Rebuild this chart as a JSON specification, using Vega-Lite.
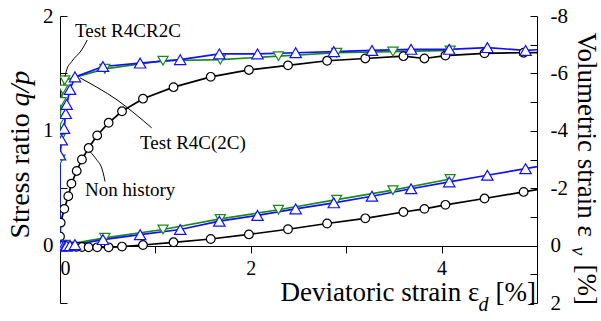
{
  "$schema": "https://vega.github.io/schema/vega-lite/v6.json",
  "width": 477,
  "height": 287,
  "autosize": {"type": "none"},
  "padding": {"left": 60, "top": 16, "right": 64, "bottom": 18},
  "background": "white",
  "config": {
    "font": "Liberation Serif",
    "view": {"stroke": null},
    "axis": {"grid": false, "domainColor": "black", "tickColor": "black", "labelColor": "black", "titleColor": "black", "labelFont": "Liberation Serif", "titleFont": "Liberation Serif", "titleFontWeight": "normal", "labelFontSize": 21, "titleFontSize": 27, "domainWidth": 1, "tickWidth": 1}
  },
  "datasets": {
    "curves": [
      {"series": "Non history", "ed": 0, "qp": 0, "ev": 0},
      {"series": "Non history", "ed": 0.0, "qp": 0.08, "ev": 0.0},
      {"series": "Non history", "ed": 0.007, "qp": 0.2, "ev": 0.0},
      {"series": "Non history", "ed": 0.045, "qp": 0.32, "ev": 0.01},
      {"series": "Non history", "ed": 0.087, "qp": 0.43, "ev": 0.02},
      {"series": "Non history", "ed": 0.12, "qp": 0.54, "ev": 0.03},
      {"series": "Non history", "ed": 0.175, "qp": 0.65, "ev": 0.04},
      {"series": "Non history", "ed": 0.23, "qp": 0.75, "ev": 0.05},
      {"series": "Non history", "ed": 0.3, "qp": 0.85, "ev": 0.06},
      {"series": "Non history", "ed": 0.39, "qp": 0.96, "ev": 0.06},
      {"series": "Non history", "ed": 0.51, "qp": 1.07, "ev": 0.06},
      {"series": "Non history", "ed": 0.65, "qp": 1.17, "ev": 0.035},
      {"series": "Non history", "ed": 0.87, "qp": 1.28, "ev": -0.02},
      {"series": "Non history", "ed": 1.19, "qp": 1.38, "ev": -0.115},
      {"series": "Non history", "ed": 1.58, "qp": 1.47, "ev": -0.23},
      {"series": "Non history", "ed": 1.98, "qp": 1.53, "ev": -0.39},
      {"series": "Non history", "ed": 2.39, "qp": 1.57, "ev": -0.57},
      {"series": "Non history", "ed": 2.8, "qp": 1.61, "ev": -0.77},
      {"series": "Non history", "ed": 3.2, "qp": 1.63, "ev": -0.95},
      {"series": "Non history", "ed": 3.6, "qp": 1.65, "ev": -1.17},
      {"series": "Non history", "ed": 3.82, "qp": 1.63, "ev": -1.28},
      {"series": "Non history", "ed": 4.04, "qp": 1.655, "ev": -1.42},
      {"series": "Non history", "ed": 4.45, "qp": 1.675, "ev": -1.64},
      {"series": "Non history", "ed": 4.86, "qp": 1.68, "ev": -1.87},
      {"series": "Non history", "ed": 5.27, "qp": 1.685, "ev": -2.1},
      {"series": "Test R4CR2C", "ed": 0, "qp": 0, "ev": 0},
      {"series": "Test R4CR2C", "ed": 0.0, "qp": 0.75, "ev": 0.0},
      {"series": "Test R4CR2C", "ed": 0.0, "qp": 0.93, "ev": 0.0},
      {"series": "Test R4CR2C", "ed": 0.0, "qp": 1.09, "ev": 0.0},
      {"series": "Test R4CR2C", "ed": 0.01, "qp": 1.25, "ev": 0.0},
      {"series": "Test R4CR2C", "ed": 0.03, "qp": 1.36, "ev": -0.01},
      {"series": "Test R4CR2C", "ed": 0.05, "qp": 1.44, "ev": -0.03},
      {"series": "Test R4CR2C", "ed": 0.47, "qp": 1.54, "ev": -0.27},
      {"series": "Test R4CR2C", "ed": 1.08, "qp": 1.61, "ev": -0.56},
      {"series": "Test R4CR2C", "ed": 1.68, "qp": 1.62, "ev": -0.93},
      {"series": "Test R4CR2C", "ed": 2.29, "qp": 1.65, "ev": -1.25},
      {"series": "Test R4CR2C", "ed": 2.9, "qp": 1.68, "ev": -1.6},
      {"series": "Test R4CR2C", "ed": 3.49, "qp": 1.69, "ev": -1.93},
      {"series": "Test R4CR2C", "ed": 4.09, "qp": 1.7, "ev": -2.32},
      {"series": "Test R4C(2C)", "ed": 0, "qp": 0, "ev": 0},
      {"series": "Test R4C(2C)", "ed": 0.0, "qp": 0.79, "ev": 0.0},
      {"series": "Test R4C(2C)", "ed": 0.018, "qp": 0.92, "ev": 0.0},
      {"series": "Test R4C(2C)", "ed": 0.042, "qp": 1.02, "ev": 0.0},
      {"series": "Test R4C(2C)", "ed": 0.06, "qp": 1.15, "ev": 0.0},
      {"series": "Test R4C(2C)", "ed": 0.07, "qp": 1.23, "ev": 0.0},
      {"series": "Test R4C(2C)", "ed": 0.105, "qp": 1.36, "ev": 0.0},
      {"series": "Test R4C(2C)", "ed": 0.157, "qp": 1.47, "ev": -0.035},
      {"series": "Test R4C(2C)", "ed": 0.45, "qp": 1.56, "ev": -0.21},
      {"series": "Test R4C(2C)", "ed": 0.84, "qp": 1.59, "ev": -0.38},
      {"series": "Test R4C(2C)", "ed": 1.26, "qp": 1.62, "ev": -0.56},
      {"series": "Test R4C(2C)", "ed": 1.67, "qp": 1.67, "ev": -0.85},
      {"series": "Test R4C(2C)", "ed": 2.07, "qp": 1.67, "ev": -1.05},
      {"series": "Test R4C(2C)", "ed": 2.47, "qp": 1.68, "ev": -1.28},
      {"series": "Test R4C(2C)", "ed": 2.87, "qp": 1.69, "ev": -1.49},
      {"series": "Test R4C(2C)", "ed": 3.27, "qp": 1.7, "ev": -1.72},
      {"series": "Test R4C(2C)", "ed": 3.68, "qp": 1.71, "ev": -1.98},
      {"series": "Test R4C(2C)", "ed": 4.08, "qp": 1.71, "ev": -2.22},
      {"series": "Test R4C(2C)", "ed": 4.48, "qp": 1.725, "ev": -2.45},
      {"series": "Test R4C(2C)", "ed": 4.88, "qp": 1.7, "ev": -2.68},
      {"series": "Test R4C(2C)", "ed": 5.28, "qp": 1.72, "ev": -2.91}
    ],
    "notes": [
      {"label": "Test R4CR2C", "ed": 0.157, "qp": 1.87},
      {"label": "Test R4C(2C)", "ed": 0.839, "qp": 0.896},
      {"label": "Non history", "ed": 0.262, "qp": 0.487}
    ],
    "leaders": [
      {"id": "a", "k": 1, "ed": 0.286, "qp": 1.791},
      {"id": "a", "k": 2, "ed": 0.227, "qp": 1.704},
      {"id": "a", "k": 3, "ed": 0.122, "qp": 1.603},
      {"id": "a", "k": 4, "ed": 0.07, "qp": 1.53},
      {"id": "a", "k": 5, "ed": 0.052, "qp": 1.472},
      {"id": "b", "k": 1, "ed": 0.21, "qp": 1.461},
      {"id": "b", "k": 2, "ed": 0.398, "qp": 1.374},
      {"id": "b", "k": 3, "ed": 0.597, "qp": 1.27},
      {"id": "b", "k": 4, "ed": 0.786, "qp": 1.148},
      {"id": "b", "k": 5, "ed": 0.961, "qp": 1.026},
      {"id": "c", "k": 1, "ed": 0.314, "qp": 0.82},
      {"id": "c", "k": 2, "ed": 0.384, "qp": 0.748},
      {"id": "c", "k": 3, "ed": 0.437, "qp": 0.676},
      {"id": "c", "k": 4, "ed": 0.461, "qp": 0.603},
      {"id": "c", "k": 5, "ed": 0.472, "qp": 0.559}
    ]
  },
  "layer": [
    {
      "data": {"name": "curves"},
      "mark": {"type": "line", "clip": true, "strokeWidth": 1.7},
      "encoding": {
        "x": {
          "field": "ed", "type": "quantitative",
          "scale": {"domain": [0, 5], "nice": false, "zero": false},
          "axis": {
            "orient": "bottom", "offset": -57, "values": [0, 1, 2, 3, 4, 5],
            "labelExpr": "datum.value % 2 == 0 && datum.value < 5 ? '' + datum.value : ''",
            "tickSize": 7, "labelPadding": 5, "labelFontSize": 20,
            "title": "Deviatoric strain ε",
            "titleX": 220, "titleY": 54, "titleAlign": "left", "titleBaseline": "alphabetic"
          }
        },
        "y": {
          "field": "qp", "type": "quantitative",
          "scale": {"domain": [-0.5, 2], "nice": false, "zero": false},
          "axis": {
            "orient": "left", "values": [-0.5, 0, 0.5, 1, 1.5, 2],
            "labelExpr": "datum.value >= 0 && datum.value % 1 == 0 ? '' + datum.value : ''",
            "tickSize": -7, "labelPadding": 14,
            "title": "Stress ratio", "titleFontSize": 28,
            "titleX": -32, "titleY": 222, "titleAngle": 270, "titleAlign": "left", "titleBaseline": "alphabetic"
          }
        },
        "color": {"field": "series", "type": "nominal", "legend": null,
          "scale": {"domain": ["Non history", "Test R4CR2C", "Test R4C(2C)"], "range": ["#000000", "#1a8a1a", "#1010ff"]}}
      }
    },
    {
      "data": {"name": "curves"},
      "mark": {"type": "point", "clip": true, "filled": false, "fill": "white", "fillOpacity": 1, "strokeWidth": 1.2, "opacity": 1},
      "encoding": {
        "x": {
          "field": "ed", "type": "quantitative",
          "scale": {"domain": [0, 5], "nice": false, "zero": false},
          "axis": {
            "orient": "bottom", "offset": -57, "domain": false, "ticks": false, "labels": false,
            "title": "d", "titleFontStyle": "italic", "titleFontSize": 20,
            "titleX": 418, "titleY": 64, "titleAlign": "left", "titleBaseline": "alphabetic"
          }
        },
        "y": {
          "field": "qp", "type": "quantitative",
          "scale": {"domain": [-0.5, 2], "nice": false, "zero": false},
          "axis": {
            "orient": "left", "domain": false, "ticks": false, "labels": false,
            "title": "q/p", "titleFontStyle": "italic", "titleFontSize": 28,
            "titleX": -32, "titleY": 90, "titleAngle": 270, "titleAlign": "left", "titleBaseline": "alphabetic"
          }
        },
        "color": {"field": "series", "type": "nominal", "legend": null},
        "shape": {"field": "series", "type": "nominal", "legend": null,
          "scale": {"domain": ["Non history", "Test R4CR2C", "Test R4C(2C)"], "range": ["circle", "triangle-down", "triangle-up"]}},
        "size": {"field": "series", "type": "nominal", "legend": null,
          "scale": {"domain": ["Non history", "Test R4CR2C", "Test R4C(2C)"], "range": [75, 130, 140]}}
      }
    },
    {
      "data": {"name": "leaders"},
      "mark": {"type": "line", "color": "black", "strokeWidth": 1, "interpolate": "monotone"},
      "encoding": {
        "x": {
          "field": "ed", "type": "quantitative",
          "scale": {"domain": [0, 5], "nice": false, "zero": false},
          "axis": {
            "orient": "bottom", "offset": -57, "domain": false, "ticks": false, "labels": false,
            "title": "[%]",
            "titleX": 435, "titleY": 54, "titleAlign": "left", "titleBaseline": "alphabetic"
          }
        },
        "y": {
          "field": "qp", "type": "quantitative",
          "scale": {"domain": [-0.5, 2], "nice": false, "zero": false},
          "axis": {
            "orient": "right", "domain": false, "ticks": false, "labels": false,
            "title": "[%]",
            "titleX": 40, "titleY": 248, "titleAngle": 90, "titleAlign": "left", "titleBaseline": "alphabetic"
          }
        },
        "detail": {"field": "id"},
        "order": {"field": "k", "type": "quantitative"}
      }
    },
    {
      "data": {"name": "notes"},
      "mark": {"type": "text", "align": "left", "baseline": "middle", "color": "black", "font": "Liberation Serif"},
      "encoding": {
        "x": {"field": "ed", "type": "quantitative", "scale": {"domain": [0, 5], "nice": false, "zero": false}, "axis": null},
        "y": {"field": "qp", "type": "quantitative", "scale": {"domain": [-0.5, 2], "nice": false, "zero": false}, "axis": null},
        "text": {"field": "label"},
        "size": {"field": "label", "type": "nominal", "legend": null,
          "scale": {"domain": ["Test R4CR2C", "Test R4C(2C)", "Non history"], "range": [19, 19, 21]}}
      }
    },
    {
      "data": {"name": "curves"},
      "mark": {"type": "line", "clip": true, "strokeWidth": 1.7},
      "encoding": {
        "x": {"field": "ed", "type": "quantitative", "scale": {"domain": [0, 5], "nice": false, "zero": false}, "axis": null},
        "y": {
          "field": "ev", "type": "quantitative",
          "scale": {"domain": [-8, 2], "nice": false, "zero": false, "reverse": true},
          "axis": {
            "orient": "right", "values": [-8, -7, -6, -5, -4, -3, -2, -1, 0, 1, 2],
            "labelExpr": "datum.value % 2 == 0 ? '' + datum.value : ''",
            "tickSize": -7, "labelPadding": 20,
            "title": "Volumetric strain ε",
            "titleX": 40, "titleY": 16, "titleAngle": 90, "titleAlign": "left", "titleBaseline": "alphabetic"
          }
        },
        "color": {"field": "series", "type": "nominal", "legend": null}
      }
    },
    {
      "data": {"name": "curves"},
      "mark": {"type": "point", "clip": true, "filled": false, "fill": "white", "fillOpacity": 1, "strokeWidth": 1.2, "opacity": 1},
      "encoding": {
        "x": {"field": "ed", "type": "quantitative", "scale": {"domain": [0, 5], "nice": false, "zero": false}, "axis": null},
        "y": {
          "field": "ev", "type": "quantitative",
          "scale": {"domain": [-8, 2], "nice": false, "zero": false, "reverse": true},
          "axis": {
            "orient": "right", "domain": false, "ticks": false, "labels": false,
            "title": "v", "titleFontStyle": "italic", "titleFontSize": 20,
            "titleX": 34, "titleY": 230, "titleAngle": 90, "titleAlign": "left", "titleBaseline": "alphabetic"
          }
        },
        "color": {"field": "series", "type": "nominal", "legend": null},
        "shape": {"field": "series", "type": "nominal", "legend": null,
          "scale": {"domain": ["Non history", "Test R4CR2C", "Test R4C(2C)"], "range": ["circle", "triangle-down", "triangle-up"]}},
        "size": {"field": "series", "type": "nominal", "legend": null,
          "scale": {"domain": ["Non history", "Test R4CR2C", "Test R4C(2C)"], "range": [75, 130, 140]}}
      }
    }
  ],
  "resolve": {"scale": {"y": "independent", "size": "independent"}, "axis": {"x": "independent", "y": "independent"}}
}
